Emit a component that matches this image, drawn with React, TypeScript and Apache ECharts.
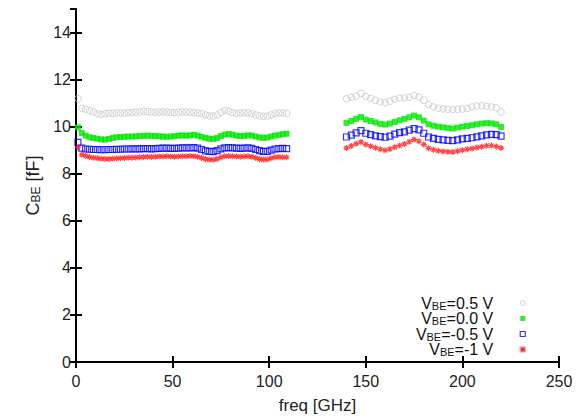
import React, { useEffect, useRef } from "react";
import * as echarts from "echarts";

const freqLow = [1, 3, 5, 7, 9, 11, 13, 15, 17, 19, 21, 23, 25, 27, 29, 31, 33, 35, 37, 39, 41, 43, 45, 47, 49, 51, 53, 55, 57, 59, 61, 63, 65, 67, 69, 71, 73, 75, 77, 79, 81, 83, 85, 87, 89, 91, 93, 95, 97, 99, 101, 103, 105, 107, 109];
const freqHigh = [140, 142.5, 145, 147.5, 150, 152.5, 155, 157.5, 160, 162.5, 165, 167.5, 170, 172.5, 175, 177.5, 180, 182.5, 185, 187.5, 190, 192.5, 195, 197.5, 200, 202.5, 205, 207.5, 210, 212.5, 215, 217.5, 220];

const v05Low = [11.19, 10.78, 10.74, 10.68, 10.62, 10.55, 10.52, 10.55, 10.57, 10.57, 10.58, 10.58, 10.58, 10.6, 10.6, 10.62, 10.63, 10.65, 10.64, 10.62, 10.61, 10.62, 10.63, 10.62, 10.61, 10.6, 10.61, 10.62, 10.62, 10.61, 10.6, 10.58, 10.55, 10.5, 10.46, 10.45, 10.5, 10.6, 10.68, 10.66, 10.6, 10.57, 10.58, 10.59, 10.58, 10.55, 10.5, 10.46, 10.44, 10.45, 10.5, 10.56, 10.58, 10.58, 10.57];
const v00Low = [9.97, 9.73, 9.62, 9.55, 9.52, 9.49, 9.46, 9.45, 9.48, 9.52, 9.55, 9.56, 9.57, 9.58, 9.58, 9.59, 9.6, 9.61, 9.62, 9.61, 9.6, 9.59, 9.58, 9.57, 9.58, 9.6, 9.62, 9.63, 9.62, 9.63, 9.65, 9.62, 9.57, 9.52, 9.49, 9.48, 9.52, 9.6, 9.66, 9.69, 9.66, 9.62, 9.6, 9.61, 9.63, 9.62, 9.58, 9.54, 9.52, 9.54, 9.58, 9.62, 9.65, 9.68, 9.7];
const vm05Low = [9.33, 9.09, 9.05, 9.04, 9.03, 9.03, 9.02, 9.02, 9.03, 9.03, 9.04, 9.04, 9.05, 9.05, 9.06, 9.06, 9.06, 9.07, 9.07, 9.06, 9.07, 9.08, 9.09, 9.09, 9.08, 9.08, 9.09, 9.1, 9.1, 9.1, 9.11, 9.09, 9.03, 8.97, 8.95, 8.94, 8.98, 9.06, 9.1, 9.11, 9.1, 9.09, 9.08, 9.09, 9.1, 9.08, 9.03, 8.98, 8.95, 8.95, 9.0, 9.05, 9.07, 9.08, 9.07];
const vm1Low = [9.12, 8.81, 8.75, 8.71, 8.68, 8.66, 8.64, 8.63, 8.63, 8.64, 8.65, 8.66, 8.67, 8.68, 8.68, 8.69, 8.7, 8.71, 8.72, 8.71, 8.72, 8.73, 8.73, 8.74, 8.73, 8.72, 8.73, 8.74, 8.74, 8.75, 8.74, 8.72, 8.67, 8.62, 8.6, 8.59, 8.63, 8.7, 8.74, 8.75, 8.74, 8.73, 8.72, 8.73, 8.74, 8.72, 8.67, 8.62, 8.6, 8.61, 8.66, 8.7, 8.71, 8.7, 8.7];

const v05High = [11.19, 11.25, 11.3, 11.42, 11.28, 11.2, 11.12, 11.05, 11.02, 11.08, 11.16, 11.21, 11.23, 11.25, 11.32, 11.26, 11.12, 10.94, 10.84, 10.78, 10.76, 10.74, 10.72, 10.74, 10.75, 10.78, 10.84, 10.88, 10.89, 10.87, 10.84, 10.8, 10.62];
const v00High = [10.16, 10.24, 10.33, 10.41, 10.3, 10.24, 10.18, 10.12, 10.09, 10.13, 10.2, 10.27, 10.33, 10.4, 10.47, 10.4, 10.26, 10.1, 10.04, 10.0, 9.97, 9.94, 9.92, 9.96, 10.0, 10.03, 10.06, 10.1, 10.13, 10.15, 10.14, 10.1, 9.99];
const vm05High = [9.56, 9.64, 9.74, 9.83, 9.72, 9.66, 9.61, 9.58, 9.55, 9.6, 9.68, 9.75, 9.78, 9.85, 9.92, 9.86, 9.72, 9.56, 9.5, 9.46, 9.44, 9.42, 9.41, 9.44, 9.48, 9.5, 9.53, 9.57, 9.61, 9.65, 9.67, 9.66, 9.6];
const vm1High = [9.09, 9.18, 9.27, 9.35, 9.24, 9.17, 9.1, 9.04, 9.0, 9.05, 9.13, 9.2, 9.26, 9.36, 9.45, 9.38, 9.24, 9.08, 9.02, 8.98, 8.95, 8.93, 8.92, 8.96, 9.0, 9.04, 9.07, 9.11, 9.15, 9.19, 9.2, 9.16, 9.09];

const biasLabels = ["0.5 V", "0.0 V", "-0.5 V", "-1 V"];
const xTicks = { min: 0, max: 250, interval: 50 };
const yTicks = { min: 0, max: 15, interval: 2 };

function pairs(f: number[], v: number[]) {
  return f.map((x, i) => [x, v[i]]);
}

const FONT = "Liberation Sans, Arial, sans-serif";

export default function App() {
  const ref = useRef<HTMLDivElement>(null);
  useEffect(() => {
    if (!ref.current) return;
    const chart = echarts.init(ref.current, null, { renderer: "svg" });
    const axisLine = { show: true, lineStyle: { color: "#000", width: 2 } };
    const axisTick = { show: true, inside: true, length: 6, lineStyle: { color: "#000", width: 2 } };
    const seriesDefs = [
      { name: biasLabels[0], low: v05Low, high: v05High, symbol: "circle", size: 6.5, itemStyle: { color: "rgba(255,255,255,0)", borderColor: "#c4c4c4", borderWidth: 1 } },
      { name: biasLabels[1], low: v00Low, high: v00High, symbol: "rect", size: 6, itemStyle: { color: "#00e600", borderWidth: 0 } },
      { name: biasLabels[2], low: vm05Low, high: vm05High, symbol: "rect", size: 6, itemStyle: { color: "rgba(255,255,255,0)", borderColor: "#0000ff", borderWidth: 1.2 } },
      { name: biasLabels[3], low: vm1Low, high: vm1High, symbol: "path://M5,0L5,10M0,5L10,5M1.5,1.5L8.5,8.5M8.5,1.5L1.5,8.5", size: 6, itemStyle: { color: "rgba(255,0,0,0.35)", borderColor: "#ff1a1a", borderWidth: 1.2 } },
    ];
    const legendIcons = [
      { icon: "circle", itemStyle: { color: "rgba(255,255,255,0)", borderColor: "#c4c4c4", borderWidth: 1 } },
      { icon: "rect", itemStyle: { color: "#00e600", borderWidth: 0 } },
      { icon: "rect", itemStyle: { color: "#ffffff", borderColor: "#0000ff", borderWidth: 1.2 } },
      { icon: "rect", itemStyle: { color: "#e00000", borderColor: "#ff9a9a", borderWidth: 1.5 } },
    ];
    chart.setOption({
      animation: false,
      backgroundColor: "#fff",
      textStyle: { fontFamily: FONT },
      grid: { left: 76, right: 26, top: 9, bottom: 57, containLabel: false },
      legend: {
        orient: "vertical",
        align: "right",
        right: 59,
        top: 291,
        padding: 0,
        itemGap: -4.5,
        itemWidth: 5,
        itemHeight: 5,
        selectedMode: false,
        data: biasLabels.map((name, i) => ({ name, ...legendIcons[i] })),
        formatter: (name: string) => `{a|V}{b|BE}{a|=${name}}`,
        textStyle: {
          padding: [0, 22, 0, 0],
          rich: {
            a: { fontSize: 16, fontFamily: FONT, color: "#111", lineHeight: 16, verticalAlign: "middle" },
            b: { fontSize: 11, fontFamily: FONT, color: "#111", lineHeight: 10, verticalAlign: "bottom", padding: [9, 0, 0, 0] },
          },
        },
      },
      xAxis: [
        {
          type: "value", position: "bottom", ...xTicks,
          axisLine, axisTick, splitLine: { show: false },
          axisLabel: { fontSize: 16, color: "#222", margin: 11, fontFamily: FONT },
          name: "freq [GHz]", nameLocation: "middle", nameGap: 35,
          nameTextStyle: { fontSize: 17, color: "#222", fontFamily: FONT },
        },
        {
          type: "value", position: "top", ...xTicks,
          axisLine, axisTick, splitLine: { show: false }, axisLabel: { show: false },
        },
      ],
      yAxis: [
        {
          type: "value", position: "left", ...yTicks,
          axisLine, axisTick, splitLine: { show: false },
          axisLabel: { fontSize: 16, color: "#222", margin: 5, showMaxLabel: false, fontFamily: FONT },
          name: "C{b|BE} [fF]", nameLocation: "middle", nameGap: 34,
          nameTextStyle: {
            fontSize: 18, color: "#222", fontFamily: FONT,
            rich: {
              b: { fontSize: 12, color: "#222", fontFamily: FONT, verticalAlign: "bottom", lineHeight: 10, padding: [10, 0, 0, 0] },
            },
          },
        },
        {
          type: "value", position: "right", ...yTicks,
          axisLine, axisTick, splitLine: { show: false }, axisLabel: { show: false },
        },
      ],
      series: seriesDefs.map((s) => ({
        type: "scatter",
        name: s.name,
        xAxisIndex: 0,
        yAxisIndex: 0,
        symbol: s.symbol,
        symbolSize: s.size,
        itemStyle: s.itemStyle,
        emphasis: { disabled: true },
        data: [...pairs(freqLow, s.low), ...pairs(freqHigh, s.high)],
      })),
    });
    return () => chart.dispose();
  }, []);
  return <div ref={ref} style={{ width: 585, height: 419, position: "absolute", left: 0, top: 0 }} />;
}
